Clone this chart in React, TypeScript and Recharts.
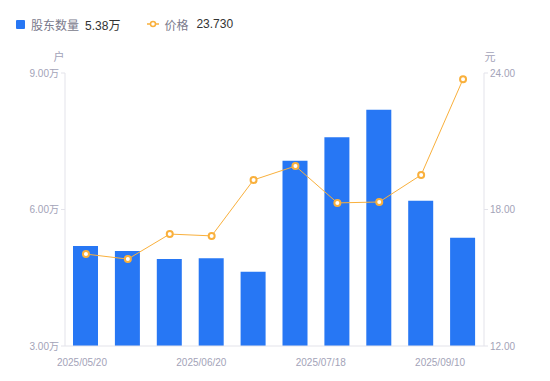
import { ComposedChart, Bar, Line, XAxis, YAxis } from 'recharts';

const dates = [
  '2025/05/20',
  '2025/05/30',
  '2025/06/10',
  '2025/06/20',
  '2025/06/30',
  '2025/07/10',
  '2025/07/18',
  '2025/07/31',
  '2025/08/20',
  '2025/09/10',
];
const holders = [5.2, 5.09, 4.91, 4.93, 4.63, 7.07, 7.59, 8.19, 6.19, 5.38];
const prices = [16.04, 15.82, 16.92, 16.84, 19.3, 19.91, 18.29, 18.33, 19.52, 23.73];
const leftTicks = [3, 6, 9];
const rightTicks = [12, 18, 24];

const data = dates.map((d, i) => ({ date: d, holders: holders[i], price: prices[i] }));

const FONT = 'Arial, "Liberation Sans", "Noto Sans CJK SC", sans-serif';
const BLUE = '#2777f4';
const ORANGE = '#f9b03c';
const AXIS = '#e3e3ea';
const TICK = '#a3a3b8';

function DateTick({ x, y, payload }: any) {
  const i = dates.indexOf(payload.value);
  return (
    <text x={x - 4 - i * 2.1} y={y + 12} textAnchor="middle" fontSize={10} fill={TICK} fontFamily={FONT}>
      {payload.value}
    </text>
  );
}

function LegendBox() {
  const last = holders.length - 1;
  return (
    <div
      style={{
        position: 'absolute',
        top: 14,
        left: 16,
        display: 'flex',
        alignItems: 'center',
        fontSize: 12,
        fontFamily: FONT,
        height: 20,
      }}
    >
      <span style={{ width: 9, height: 9, background: BLUE, borderRadius: 1, marginRight: 6 }} />
      <span style={{ color: '#7a7a8c' }}>股东数量</span>
      <span style={{ color: '#333', marginLeft: 6 }}>{holders[last].toFixed(2)}万</span>
      <svg width={12} height={10} style={{ marginLeft: 27, marginRight: 5 }}>
        <line x1={0} y1={5} x2={12} y2={5} stroke={ORANGE} strokeWidth={1.5} />
        <circle cx={6} cy={5} r={2.5} fill="#fff" stroke={ORANGE} strokeWidth={1.5} />
      </svg>
      <span style={{ color: '#7a7a8c' }}>价格</span>
      <span style={{ color: '#333', marginLeft: 8 }}>{prices[last].toFixed(3)}</span>
    </div>
  );
}

export default function App() {
  return (
    <div style={{ position: 'absolute', left: 0, top: 0, width: 550, height: 381, background: '#fff' }}>
      <LegendBox />
      <ComposedChart width={550} height={381} data={data} margin={{ top: 73, right: 0, bottom: 10, left: 0 }}>
        <XAxis
          dataKey="date"
          interval={2}
          height={25}
          tick={<DateTick />}
          tickLine={false}
          axisLine={{ stroke: AXIS }}
        />
        <YAxis
          yAxisId="left"
          width={65}
          domain={[3, 9]}
          ticks={leftTicks}
          tickFormatter={(v: number) => `${v.toFixed(2)}万`}
          tick={{ fontSize: 10, fill: TICK, fontFamily: FONT }}
          tickLine={{ stroke: AXIS }}
          tickSize={4}
          axisLine={{ stroke: AXIS }}
          label={{
            content: ({ viewBox }: any) => (
              <text x={viewBox.x + viewBox.width - 6} y={viewBox.y - 12} textAnchor="middle" fontSize={11} fill={TICK} fontFamily={FONT}>
                户
              </text>
            ),
          }}
        />
        <YAxis
          yAxisId="right"
          orientation="right"
          width={66}
          domain={[12, 24]}
          ticks={rightTicks}
          tickFormatter={(v: number) => v.toFixed(2)}
          tick={{ fontSize: 10, fill: TICK, fontFamily: FONT }}
          tickLine={{ stroke: AXIS }}
          tickSize={4}
          axisLine={{ stroke: AXIS }}
          label={{
            content: ({ viewBox }: any) => (
              <text x={viewBox.x + 6} y={viewBox.y - 12} textAnchor="middle" fontSize={11} fill={TICK} fontFamily={FONT}>
                元
              </text>
            ),
          }}
        />
        <Bar yAxisId="left" dataKey="holders" fill={BLUE} barSize={25} isAnimationActive={false} />
        <Line
          yAxisId="right"
          dataKey="price"
          type="linear"
          stroke={ORANGE}
          strokeWidth={1}
          dot={{ r: 3, fill: '#fff', stroke: ORANGE, strokeWidth: 2 }}
          isAnimationActive={false}
        />
      </ComposedChart>
    </div>
  );
}
